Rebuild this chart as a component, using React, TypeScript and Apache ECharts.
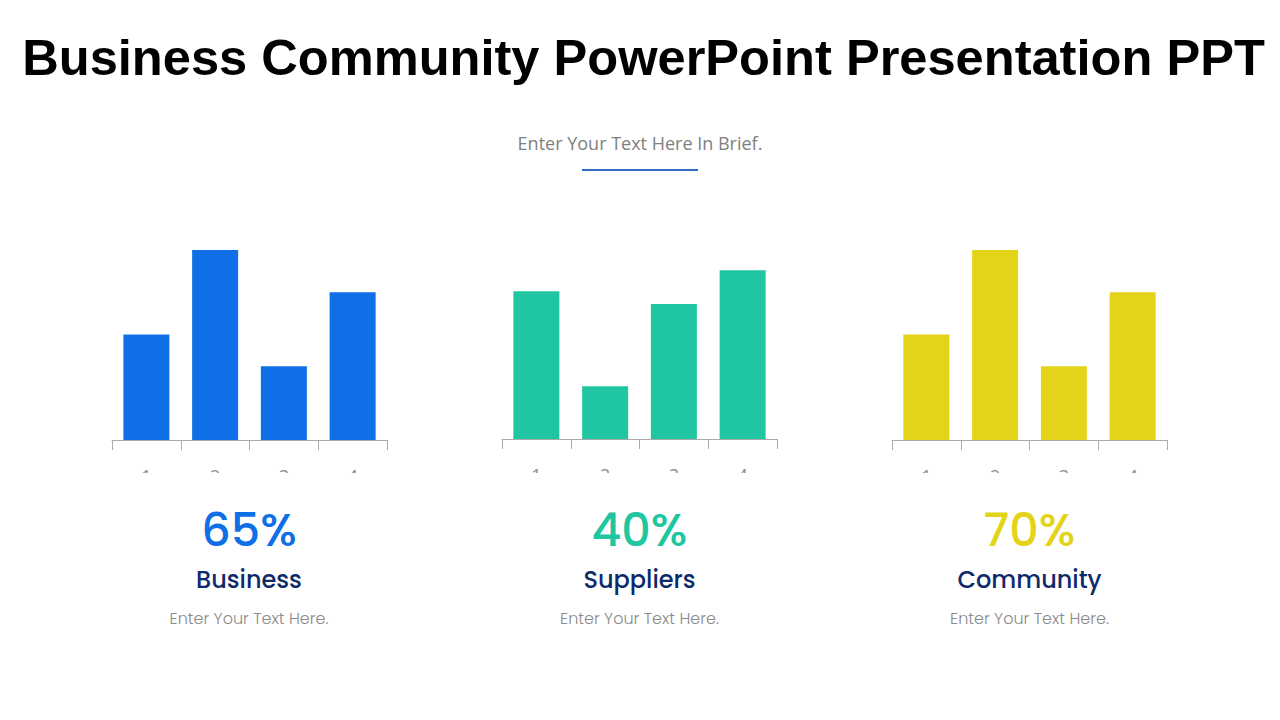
import React, { useEffect, useRef } from "react";
import * as echarts from "echarts";

const categories = ["1", "2", "3", "4"];
const businessValues = [2.5, 4.5, 1.75, 3.5];
const suppliersValues = [3.5, 1.25, 3.2, 4.0];
const communityValues = [2.5, 4.5, 1.75, 3.5];
const percents = ["65%", "40%", "70%"];
const names = ["Business", "Suppliers", "Community"];
const colors = ["#0f6fe6", "#20c6a2", "#e3d41a"];
const seriesData = [businessValues, suppliersValues, communityValues];

export default function App() {
  const ref = useRef<HTMLDivElement>(null);
  useEffect(() => {
    if (!ref.current) return;
    const chart = echarts.init(ref.current, null, { renderer: "svg" });
    const lefts = [112, 502, 892];
    const tops = [229, 228, 229];
    const centers = [249, 639.5, 1029.5];
    const grids = lefts.map((l, i) => ({ left: l, top: tops[i], width: 275, height: 211 }));
    const xAxes = lefts.map((_, i) => ({
      type: "category",
      gridIndex: i,
      data: categories,
      axisLine: { lineStyle: { color: "#aaaaaa", width: 1 } },
      axisTick: { show: true, length: 10, lineStyle: { color: "#aaaaaa" } },
      axisLabel: { color: "#8c8c8c", fontSize: 18, margin: 27, fontFamily: "Open Sans" },
    }));
    const yAxes = lefts.map((_, i) => ({
      type: "value",
      gridIndex: i,
      min: 0,
      max: 5,
      show: false,
      splitLine: { show: false },
    }));
    const series = seriesData.map((d, i) => ({
      type: "bar",
      xAxisIndex: i,
      yAxisIndex: i,
      data: d,
      barWidth: 46,
      itemStyle: { color: colors[i] },
    }));
    const graphics: any[] = [
      {
        type: "rect",
        shape: { x: 0, y: 473, width: 1280, height: 30 },
        style: { fill: "#ffffff" },
        z: 100,
      },
      {
        type: "text",
        x: 643.5,
        y: 57,
        style: {
          text: "Business Community PowerPoint Presentation PPT",
          font: "bold 50.6px 'Liberation Sans', Arial, sans-serif",
          fill: "#000000",
          align: "center",
          verticalAlign: "middle",
        },
      },
      {
        type: "text",
        x: 640,
        y: 143,
        style: {
          text: "Enter Your Text Here In Brief.",
          font: "18px 'Open Sans', sans-serif",
          fill: "#808080",
          align: "center",
          verticalAlign: "middle",
        },
      },
      {
        type: "line",
        shape: { x1: 582, y1: 170, x2: 698, y2: 170 },
        style: { stroke: "#2f6dc2", lineWidth: 2 },
      },
    ];
    centers.forEach((cx, i) => {
      graphics.push(
        {
          type: "text",
          x: cx,
          y: 530,
          style: {
            text: percents[i],
            font: "500 46px Poppins, Inter, sans-serif",
            fill: colors[i],
            align: "center",
            verticalAlign: "middle",
          },
        },
        {
          type: "text",
          x: cx,
          y: 579,
          style: {
            text: names[i],
            font: "500 24px Poppins, Inter, sans-serif",
            fill: "#0d2a6b",
            align: "center",
            verticalAlign: "middle",
          },
        },
        {
          type: "text",
          x: cx,
          y: 618,
          style: {
            text: "Enter Your Text Here.",
            font: "300 16px Poppins, Inter, sans-serif",
            fill: "#8a8a8a",
            align: "center",
            verticalAlign: "middle",
          },
        }
      );
    });
    chart.setOption({
      animation: false,
      backgroundColor: "#ffffff",
      grid: grids,
      xAxis: xAxes,
      yAxis: yAxes,
      series,
      graphic: graphics,
    } as any);
    return () => chart.dispose();
  }, []);
  return (
    <div
      ref={ref}
      style={{ position: "fixed", left: 0, top: 0, width: 1280, height: 720 }}
    />
  );
}
